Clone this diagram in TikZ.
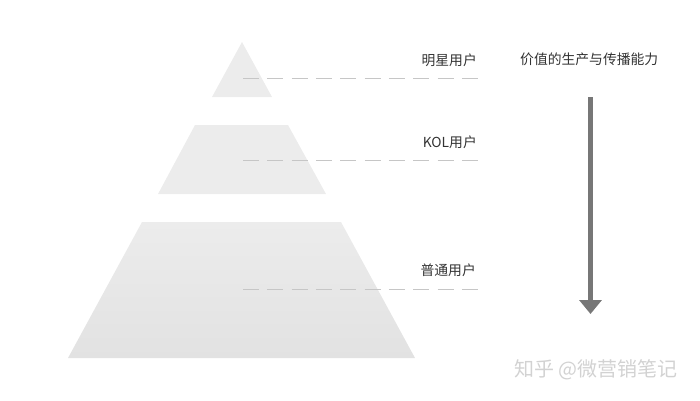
\documentclass[tikz,border=0pt]{standalone}
\usepackage{fontspec}
\newfontfamily\cjk{Noto Sans CJK SC}
\usetikzlibrary{arrows.meta}
\definecolor{layer}{HTML}{ECECEC}
\definecolor{layerdk}{HTML}{E2E2E2}
\definecolor{dashgray}{HTML}{C6C6C6}
\definecolor{txt}{HTML}{333333}
\definecolor{arrowgray}{HTML}{777777}
\definecolor{mark}{HTML}{D2D2D2}
\begin{document}
\begin{tikzpicture}[x=1pt,y=-1pt,
  lbl/.style={font=\cjk\fontsize{13.8}{15}\selectfont,text=txt,inner sep=0pt},
  guide/.style={dashgray,line width=0.9pt,dash pattern=on 16pt off 8.33pt}]
\useasboundingbox (0,0) rectangle (700,400);
% pyramid layers
\fill[layer] (242,42) -- (272,97) -- (212,97) -- cycle;
\fill[layer] (195,125) -- (288,125) -- (326,194) -- (158,194) -- cycle;
\shade[top color=layer,bottom color=layerdk] (142,222) -- (341,222) -- (415,358) -- (68,358) -- cycle;
% guide lines
\coordinate (g1a) at (243,78);  \coordinate (g1b) at (478,78);
\coordinate (g2a) at (243,160); \coordinate (g2b) at (478,160);
\coordinate (g3a) at (243,289); \coordinate (g3b) at (478,289);
\draw[guide] (g1a) -- (g1b);
\draw[guide] (g2a) -- (g2b);
\draw[guide] (g3a) -- (g3b);
% labels
\node[lbl,anchor=east] (star) at (477,60) {明星用户};
\node[lbl,anchor=east] (kol) at (477,142) {KOL用户};
\node[lbl,anchor=east] (common) at (476,270) {普通用户};
\node[lbl,anchor=west] (ability) at (520,59) {价值的生产与传播能力};
% arrow
\coordinate (ar1) at (590.5,97);
\coordinate (ar2) at (590.5,314);
\draw[arrowgray,line width=5.5pt,-{Triangle[width=22pt,length=14pt]}] (ar1) -- (ar2);
% watermark
\node[font=\cjk\fontsize{20}{22}\selectfont,text=mark,inner sep=0pt,anchor=west] (wm) at (514,370) {知乎 @微营销笔记};
\end{tikzpicture}
\end{document}
